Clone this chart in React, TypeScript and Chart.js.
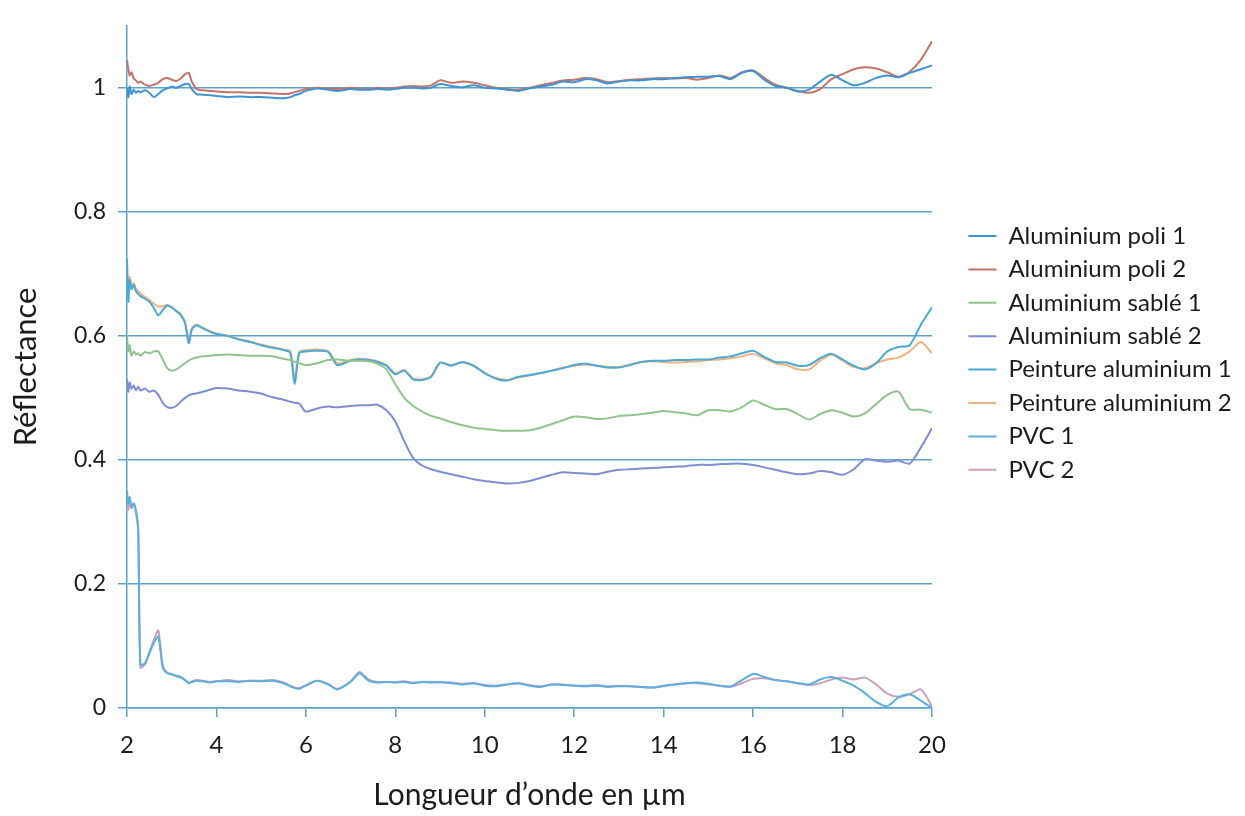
import React, { useEffect, useRef } from "react";
import { Chart, registerables } from "chart.js";

Chart.register(...registerables);

// Wavelength (µm) sample positions shared by all series
const wavelengths = [
  2.0, 2.03, 2.06, 2.1, 2.15, 2.2, 2.25, 2.3, 2.4, 2.5,
  2.6, 2.7, 2.8, 2.9, 3.0, 3.1, 3.2, 3.3, 3.38, 3.45,
  3.55, 3.7, 3.85, 4.0, 4.25, 4.5, 4.75, 5.0, 5.25, 5.5,
  5.65, 5.75, 5.85, 6.0, 6.25, 6.5, 6.7, 7.0, 7.2, 7.4,
  7.6, 7.8, 8.0, 8.2, 8.4, 8.6, 8.8, 9.0, 9.25, 9.5,
  9.75, 10.0, 10.25, 10.5, 10.75, 11.0, 11.25, 11.5, 11.75, 12.0,
  12.25, 12.5, 12.75, 13.0, 13.25, 13.5, 13.75, 14.0, 14.25, 14.5,
  14.75, 15.0, 15.25, 15.5, 15.75, 16.0, 16.25, 16.5, 16.75, 17.0,
  17.25, 17.5, 17.75, 18.0, 18.25, 18.5, 18.75, 19.0, 19.25, 19.5,
  19.75, 20.0,
];

const aluPoli1 = [
  1.0, 0.985, 1.002, 0.99, 0.997, 0.992, 0.995, 0.993, 0.996, 0.992,
  0.985, 0.99, 0.996, 0.999, 1.002, 1.0, 1.003, 1.006, 1.006, 0.998,
  0.99, 0.989, 0.988, 0.987, 0.985, 0.986, 0.985, 0.985, 0.984, 0.983,
  0.985, 0.988, 0.99, 0.995, 0.999, 0.997, 0.995, 0.998, 0.997, 0.997,
  0.998, 0.997, 0.998, 1.0, 1.0, 0.999, 1.0, 1.006, 1.003, 1.001,
  1.004, 1.0, 0.999, 0.997, 0.995, 0.999, 1.002, 1.005, 1.01, 1.009,
  1.014, 1.012, 1.007, 1.01, 1.012, 1.012, 1.014, 1.014, 1.016, 1.017,
  1.018, 1.018, 1.019, 1.014, 1.024, 1.027, 1.013, 1.003, 1.0, 0.994,
  0.997, 1.01, 1.021, 1.012, 1.004, 1.008, 1.016, 1.02, 1.017, 1.024,
  1.03, 1.036,
];

const aluPoli2 = [
  1.045, 1.03, 1.02, 1.025, 1.015, 1.012, 1.008, 1.01, 1.005, 1.003,
  1.005, 1.008, 1.014, 1.016, 1.013, 1.011, 1.015, 1.022, 1.024, 1.01,
  0.998, 0.996, 0.995, 0.994, 0.993, 0.993, 0.992, 0.992, 0.991, 0.99,
  0.991, 0.993, 0.995, 0.998, 1.0, 0.999, 0.998, 1.0, 0.999, 0.998,
  1.0, 0.999, 1.0, 1.002, 1.003, 1.002, 1.004, 1.012, 1.008, 1.01,
  1.008, 1.004, 1.0, 0.998, 0.997, 1.0, 1.004, 1.008, 1.012, 1.013,
  1.016, 1.014, 1.009, 1.011, 1.013, 1.014, 1.015, 1.016, 1.015, 1.016,
  1.013, 1.016, 1.02, 1.016, 1.025, 1.028, 1.016, 1.005, 1.0, 0.995,
  0.992, 0.998, 1.014, 1.022, 1.03, 1.033, 1.031, 1.025, 1.018, 1.026,
  1.045, 1.075,
];

const aluSable1 = [
  0.6, 0.575, 0.585, 0.568, 0.575, 0.57, 0.572, 0.568, 0.574, 0.572,
  0.575, 0.575, 0.562, 0.548, 0.544, 0.546, 0.551, 0.556, 0.56, 0.563,
  0.565, 0.567, 0.568, 0.569, 0.57, 0.569, 0.568, 0.568, 0.567, 0.563,
  0.561, 0.558, 0.556, 0.553, 0.556, 0.561, 0.562, 0.56, 0.56, 0.559,
  0.555, 0.546, 0.522, 0.5, 0.487, 0.478, 0.471, 0.467, 0.461, 0.456,
  0.452, 0.45, 0.448, 0.447, 0.447, 0.448, 0.452, 0.458, 0.464, 0.47,
  0.469, 0.466, 0.467, 0.471, 0.472, 0.474, 0.476, 0.479, 0.477, 0.475,
  0.472, 0.48, 0.48, 0.478, 0.485, 0.496, 0.489, 0.482, 0.482, 0.474,
  0.465, 0.474, 0.48, 0.476, 0.47, 0.475, 0.49, 0.505, 0.51, 0.482,
  0.481, 0.476,
];

const aluSable2 = [
  0.53, 0.51, 0.525, 0.515, 0.52, 0.512, 0.518, 0.512, 0.515, 0.51,
  0.512, 0.505, 0.492, 0.485, 0.484, 0.487, 0.494, 0.5, 0.504, 0.506,
  0.507, 0.51, 0.513, 0.516, 0.515, 0.512, 0.51, 0.507, 0.501, 0.497,
  0.494, 0.492, 0.491, 0.478, 0.483, 0.486, 0.485, 0.487, 0.488, 0.488,
  0.489, 0.48, 0.462, 0.43, 0.403, 0.391, 0.385, 0.381, 0.377, 0.373,
  0.369, 0.366, 0.364, 0.362, 0.363, 0.366, 0.371, 0.376, 0.38, 0.379,
  0.378, 0.377, 0.381, 0.384, 0.385, 0.386, 0.387, 0.388, 0.389, 0.39,
  0.392, 0.392, 0.393, 0.394, 0.394, 0.392, 0.388, 0.384, 0.38, 0.377,
  0.378, 0.382, 0.38, 0.376, 0.385, 0.401, 0.399, 0.397, 0.399, 0.394,
  0.42, 0.451,
];

const peintureAlu1 = [
  0.725, 0.655, 0.69, 0.675, 0.682, 0.672, 0.668, 0.664, 0.66, 0.655,
  0.645, 0.633, 0.642, 0.649, 0.646, 0.64, 0.634, 0.62, 0.588, 0.61,
  0.617, 0.612, 0.607, 0.603, 0.6, 0.594, 0.59, 0.585, 0.581, 0.577,
  0.573, 0.522, 0.572, 0.575, 0.576, 0.574, 0.553, 0.56, 0.562, 0.561,
  0.558, 0.552, 0.538, 0.544, 0.53, 0.529, 0.534, 0.557, 0.552, 0.558,
  0.552, 0.54, 0.531, 0.528, 0.534, 0.537, 0.54, 0.544, 0.548, 0.553,
  0.555, 0.552, 0.549, 0.549, 0.553, 0.558, 0.56, 0.56, 0.561, 0.561,
  0.562, 0.562, 0.565, 0.567, 0.572, 0.576, 0.566, 0.558, 0.557, 0.552,
  0.553, 0.564, 0.571, 0.562, 0.552, 0.546, 0.556, 0.575, 0.582, 0.585,
  0.618, 0.646,
];

const peintureAlu2 = [
  0.7, 0.685, 0.695, 0.682, 0.685, 0.676, 0.672, 0.668, 0.663, 0.658,
  0.652, 0.647, 0.648, 0.65, 0.646, 0.641, 0.635, 0.622, 0.595, 0.612,
  0.618, 0.613, 0.608, 0.604, 0.6, 0.595, 0.591, 0.586, 0.582, 0.578,
  0.575, 0.53, 0.574, 0.577, 0.578, 0.575, 0.556, 0.561, 0.563, 0.562,
  0.559, 0.553, 0.54, 0.545, 0.531, 0.53, 0.535, 0.556, 0.553, 0.557,
  0.551, 0.54, 0.532, 0.529, 0.533, 0.536, 0.54, 0.544, 0.549, 0.552,
  0.554, 0.552, 0.55, 0.55, 0.554, 0.558, 0.559, 0.558, 0.557, 0.558,
  0.559, 0.561, 0.562, 0.564, 0.567, 0.571, 0.564, 0.556, 0.553, 0.546,
  0.546, 0.56, 0.57, 0.56, 0.55, 0.548, 0.556, 0.562, 0.565, 0.575,
  0.59, 0.572,
];

const pvc1 = [
  0.35, 0.33, 0.34, 0.325, 0.33, 0.318, 0.29, 0.07, 0.072, 0.088,
  0.105, 0.115, 0.065, 0.056, 0.054, 0.052, 0.05, 0.045, 0.04, 0.042,
  0.044, 0.043, 0.041, 0.043, 0.043, 0.042, 0.044, 0.043, 0.044, 0.04,
  0.035, 0.032, 0.031, 0.036, 0.044, 0.038, 0.03, 0.042, 0.056, 0.044,
  0.041, 0.042, 0.041, 0.042, 0.04, 0.042, 0.041, 0.042, 0.04, 0.038,
  0.04, 0.036, 0.035, 0.038, 0.04, 0.036, 0.034, 0.038, 0.037, 0.036,
  0.035, 0.036, 0.034, 0.035, 0.035, 0.034, 0.033, 0.036, 0.038, 0.04,
  0.041, 0.039, 0.036, 0.035, 0.045, 0.055, 0.05, 0.045, 0.043, 0.04,
  0.038, 0.046, 0.05, 0.044, 0.036, 0.024, 0.01, 0.003, 0.017, 0.022,
  0.012, 0.0,
];

const pvc2 = [
  0.34, 0.32, 0.335, 0.322, 0.328, 0.315, 0.285, 0.065, 0.07, 0.09,
  0.11, 0.125, 0.068, 0.057, 0.055, 0.051, 0.049, 0.045, 0.041, 0.043,
  0.045, 0.044, 0.042, 0.043, 0.045, 0.043, 0.044, 0.044, 0.045, 0.041,
  0.036, 0.033, 0.032, 0.037, 0.044, 0.039, 0.031, 0.043, 0.058, 0.046,
  0.042, 0.042, 0.042, 0.043, 0.041, 0.042, 0.042, 0.041, 0.041, 0.039,
  0.04, 0.037, 0.036, 0.038, 0.04, 0.037, 0.035, 0.038, 0.038, 0.036,
  0.036, 0.037, 0.035, 0.036, 0.035, 0.034, 0.033, 0.035, 0.038, 0.04,
  0.04, 0.038, 0.036, 0.034, 0.04, 0.047, 0.048, 0.045, 0.043, 0.04,
  0.037, 0.04, 0.046, 0.049, 0.046, 0.049, 0.038, 0.023, 0.018, 0.022,
  0.03, 0.003,
];

const seriesNames = [
  "Aluminium poli 1",
  "Aluminium poli 2",
  "Aluminium sablé 1",
  "Aluminium sablé 2",
  "Peinture aluminium 1",
  "Peinture aluminium 2",
  "PVC 1",
  "PVC 2",
];

const seriesColors = [
  "#3f93d2",
  "#c27468",
  "#8fc48e",
  "#7d8ed2",
  "#4aaad6",
  "#f0b27e",
  "#5caee0",
  "#c9a1b8",
];

const xTicks = [2, 4, 6, 8, 10, 12, 14, 16, 18, 20];
const yTicks = [0, 0.2, 0.4, 0.6, 0.8, 1];

const FONT = "Lato, 'Open Sans', sans-serif";
const GRID = "#5fa2cc";
const TEXT = "#1c1c1c";

export default function App() {
  const ref = useRef<HTMLCanvasElement>(null);

  useEffect(() => {
    if (!ref.current) return;
    const values = [aluPoli1, aluPoli2, aluSable1, aluSable2, peintureAlu1, peintureAlu2, pvc1, pvc2];
    const datasets = seriesNames.map((name, i) => ({
      label: name,
      data: wavelengths.map((x, j) => ({ x, y: values[i][j] })),
      borderColor: seriesColors[i],
      backgroundColor: seriesColors[i],
      borderWidth: 2,
      pointRadius: 0,
      tension: 0.25,
    }));

    const legendPlace = {
      id: "legendPlace",
      afterInit(chart: any) {
        const lg = chart.legend;
        if (!lg) return;
        const orig = lg.fit.bind(lg);
        lg.fit = function () {
          orig();
          this.width = 313;
        };
      },
      afterLayout(chart: any) {
        const lg = chart.legend;
        if (!lg) return;
        lg.left = 959;
        lg.right = 1245;
        lg.top = 214.6;
        lg.bottom = 780;
      },
    };

    const chart = new Chart(ref.current, {
      type: "line",
      data: { datasets },
      plugins: [legendPlace],
      options: {
        animation: false,
        responsive: false,
        locale: "en-US",
        layout: { padding: { top: 14, left: 0, right: 0, bottom: 0 } },
        plugins: {
          tooltip: { enabled: false },
          legend: {
            position: "right",
            align: "start",
            labels: {
              usePointStyle: true,
              pointStyle: "line",
              pointStyleWidth: 28,
              padding: 9.4,
              color: TEXT,
              font: { family: FONT, size: 24 },
            },
          },
        },
        scales: {
          x: {
            type: "linear",
            min: 2,
            max: 20,
            afterFit(scale: any) {
              scale.height = 108;
            },
            afterBuildTicks(scale: any) {
              scale.ticks = xTicks.map((v) => ({ value: v }));
            },
            ticks: {
              color: TEXT,
              font: { family: FONT, size: 24 },
              padding: 14,
              maxRotation: 0,
              callback: (v: any) => String(Number(v)),
            },
            grid: {
              drawOnChartArea: false,
              drawTicks: true,
              tickLength: 9,
              color: GRID,
              lineWidth: 1.5,
            },
            border: { color: GRID, width: 1.5 },
            title: {
              display: true,
              text: "Longueur d’onde en µm",
              color: TEXT,
              font: { family: FONT, size: 30 },
              padding: { top: 0, bottom: 3 },
            },
          },
          y: {
            type: "linear",
            min: 0,
            max: 1.1,
            afterFit(scale: any) {
              scale.width = 127;
            },
            afterBuildTicks(scale: any) {
              scale.ticks = yTicks.map((v) => ({ value: v }));
            },
            ticks: {
              color: TEXT,
              font: { family: FONT, size: 23 },
              padding: 12,
              callback: (v: any) => String(Number(Number(v).toFixed(2))),
            },
            grid: {
              drawTicks: true,
              tickLength: 9,
              color: GRID,
              lineWidth: 1.5,
            },
            border: { color: GRID, width: 1.5 },
            title: {
              display: true,
              text: "Réflectance",
              color: TEXT,
              font: { family: FONT, size: 31 },
              padding: { top: 7, bottom: 0 },
            },
          },
        },
      },
    } as any);

    return () => chart.destroy();
  }, []);

  return (
    <div style={{ position: "fixed", left: 0, top: 0, width: 1245, height: 816, background: "#fff" }}>
      <canvas ref={ref} width={1245} height={816} />
    </div>
  );
}
